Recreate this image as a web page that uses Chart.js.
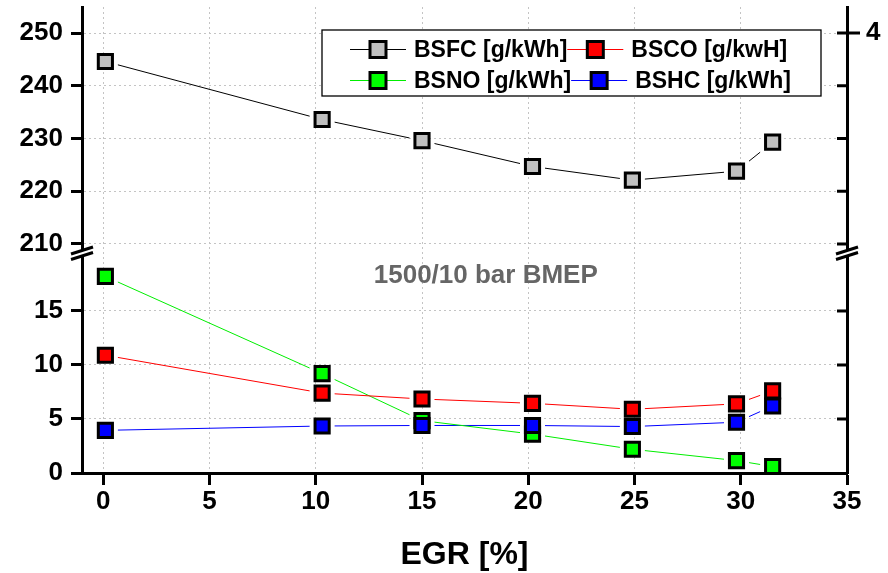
<!DOCTYPE html>
<html>
<head>
<meta charset="utf-8">
<script src="https://cdn.jsdelivr.net/npm/chart.js@4/dist/chart.umd.min.js"></script>
<style>
  html, body { margin: 0; background: #fff; }
</style>
</head>
<body>
<canvas id="chart" width="888" height="573"></canvas>
<script>
// ─── Data ────────────────────────────────────────────
const egr  = [0.1, 10.3, 15.0, 20.2, 24.9, 29.8, 31.5];
const bsfc = [244.6, 233.6, 229.6, 224.7, 222.1, 223.8, 229.3];
const bsco = [10.9, 7.4, 6.85, 6.45, 5.9, 6.4, 7.6];
const bsno = [18.2, 9.2, 4.85, 3.6, 2.2, 1.15, 0.6];
const bshc = [3.95, 4.35, 4.4, 4.4, 4.3, 4.7, 6.2];

const xTicks     = [0, 5, 10, 15, 20, 25, 30, 35];
const upperTicks = [210, 220, 230, 240, 250];
const lowerTicks = [0, 5, 10, 15];
const rightTopLabel = '4';

const labels = ['BSFC [g/kWh]', 'BSCO [g/kwH]', 'BSNO [g/kWh]', 'BSHC [g/kWh]'];
const note = '1500/10 bar BMEP';
const xTitle = 'EGR [%]';

// ─── Styles ──────────────────────────────────────────
const FONT = "'Liberation Sans', Arial, sans-serif";
const LINE = ['#000000', '#ff0000', '#00ee00', '#0000ff'];
const FILL = ['#c0c0c0', '#ff0000', '#00ff00', '#0000ff'];
const GRID = '#c4c4c4';

const pts = arr => egr.map((x, i) => ({ x, y: arr[i] }));
const series = [
  { data: bsfc, axis: 'yUp'  },
  { data: bsco, axis: 'yLow' },
  { data: bsno, axis: 'yLow' },
  { data: bshc, axis: 'yLow' },
];

const datasets = [];
series.forEach((s, i) => {
  // line only (with gaps near markers)
  datasets.push({
    data: pts(s.data), yAxisID: s.axis, gap: true,
    borderColor: LINE[i], borderWidth: 1, pointRadius: 0, order: 20 + i,
  });
});
series.forEach((s, i) => {
  // markers only
  datasets.push({
    data: pts(s.data), yAxisID: s.axis, showLine: false,
    pointStyle: 'rect', pointRadius: 10, pointBorderWidth: 3,
    pointBackgroundColor: FILL[i], pointBorderColor: '#000', order: 3 - i,
  });
});

// ─── Plugins ─────────────────────────────────────────
const gapPlugin = {
  id: 'gaps',
  beforeDatasetDraw(chart, args) {
    const ds = chart.data.datasets[args.index];
    if (!ds.gap) return;
    const ctx = chart.ctx;
    ctx.save();
    ctx.beginPath();
    ctx.rect(0, 0, chart.width, chart.height);
    args.meta.data.forEach(p => ctx.rect(p.x - 12.5, p.y - 12.5, 25, 25));
    ctx.clip('evenodd');
  },
  afterDatasetDraw(chart, args) {
    if (chart.data.datasets[args.index].gap) chart.ctx.restore();
  },
};

const decoPlugin = {
  id: 'deco',
  afterDraw(chart) {
    const ctx = chart.ctx;
    const { yUp, yLow, yrUp, yrLow, x } = chart.scales;
    ctx.save();

    // inward ticks on right axis
    const rx = yrUp.left;
    ctx.strokeStyle = '#000';
    ctx.lineWidth = 3;
    upperTicks.forEach(v => {
      const y = yrUp.getPixelForValue(v);
      ctx.beginPath();
      ctx.moveTo(rx - 10, y);
      ctx.lineTo(v === 250 ? rx + 13 : rx, y);
      ctx.stroke();
    });
    lowerTicks.filter(v => v > 0).forEach(v => {
      const y = yrLow.getPixelForValue(v);
      ctx.beginPath();
      ctx.moveTo(rx - 10, y);
      ctx.lineTo(rx, y);
      ctx.stroke();
    });

    // axis breaks
    const B = yUp.bottom;
    [yUp.right, rx].forEach(ax => {
      ctx.fillStyle = '#fff';
      ctx.fillRect(ax - 3, B - 2, 6, 5);
      ctx.strokeStyle = '#000';
      ctx.lineWidth = 3;
      [-1.5, 4].forEach(off => {
        ctx.beginPath();
        ctx.moveTo(ax - 11, B + off + 3.5);
        ctx.lineTo(ax + 11, B + off - 3.5);
        ctx.stroke();
      });
    });

    // note text
    ctx.fillStyle = '#666';
    ctx.font = `bold 26px ${FONT}`;
    ctx.textAlign = 'center';
    ctx.textBaseline = 'middle';
    ctx.fillText(note, x.getPixelForValue(18), yLow.getPixelForValue(18.3));

    // legend
    const bx = 322, by = 30, bw = 499, bh = 66;
    ctx.fillStyle = '#fff';
    ctx.fillRect(bx, by, bw, bh);
    ctx.strokeStyle = '#000';
    ctx.lineWidth = 1.3;
    ctx.strokeRect(bx, by, bw, bh);

    ctx.font = `bold 23px ${FONT}`;
    ctx.textAlign = 'left';
    const rows = [[0, 1], [2, 3]];
    const rowY = [49.5, 80.5];
    rows.forEach((row, r) => {
      let lx = 350;
      row.forEach(i => {
        const y = rowY[r];
        const len = 56;
        ctx.strokeStyle = LINE[i];
        ctx.lineWidth = 1;
        ctx.beginPath();
        ctx.moveTo(lx, y);
        ctx.lineTo(lx + len, y);
        ctx.stroke();
        const mx = lx + len / 2;
        ctx.fillStyle = FILL[i];
        ctx.fillRect(mx - 8, y - 8, 16, 16);
        ctx.strokeStyle = '#000';
        ctx.lineWidth = 3;
        ctx.strokeRect(mx - 8, y - 8, 16, 16);
        const tx = lx + len + 8;
        ctx.fillStyle = '#000';
        ctx.fillText(labels[i], tx, y + 1);
        lx = tx + ctx.measureText(labels[i]).width;
      });
    });
    ctx.restore();
  },
};

// ─── Scales ──────────────────────────────────────────
const tickFont = { family: FONT, size: 26, weight: 'bold' };
const noPad = s => { s.paddingTop = 0; s.paddingBottom = 0; s.paddingLeft = 0; s.paddingRight = 0; };
const setTicks = arr => s => { s.ticks = arr.map(v => ({ value: v })); };

const leftAxis = (min, max, ticks, weight) => ({
  type: 'linear', position: 'left', stack: 'L', stackWeight: weight,
  min, max,
  afterBuildTicks: setTicks(ticks),
  afterFit: s => { s.width = 82; noPad(s); },
  border: { color: '#000', width: 3, dash: [2, 3] },
  grid: { color: GRID, lineWidth: 1, tickLength: 11, tickColor: '#000', tickWidth: 3, tickBorderDash: [] },
  ticks: { color: '#000', font: tickFont, padding: 8 },
});

const rightAxis = (min, max, ticks, weight, cb) => ({
  type: 'linear', position: 'right', stack: 'R', stackWeight: weight,
  min, max,
  afterBuildTicks: setTicks(ticks),
  afterFit: s => { s.width = 41; noPad(s); },
  border: { color: '#000', width: 3 },
  grid: { drawOnChartArea: false, drawTicks: false },
  ticks: { color: '#000', font: tickFont, padding: 19, callback: cb },
});

new Chart(document.getElementById('chart'), {
  type: 'line',
  data: { datasets },
  plugins: [gapPlugin, decoPlugin],
  options: {
    responsive: false,
    animation: false,
    devicePixelRatio: 1,
    layout: { autoPadding: false, padding: { top: 7, left: 0, right: 0, bottom: 0 } },
    plugins: { legend: { display: false }, tooltip: { enabled: false } },
    scales: {
      x: {
        type: 'linear', min: -1, max: 35,
        afterBuildTicks: setTicks(xTicks),
        afterFit: s => { s.height = 100; noPad(s); },
        border: { color: '#000', width: 3, dash: [2, 3] },
        grid: { color: GRID, lineWidth: 1, tickLength: 12, tickColor: '#000', tickWidth: 3, tickBorderDash: [] },
        ticks: { color: '#000', font: tickFont, padding: 1, maxRotation: 0 },
        title: {
          display: true, text: xTitle, color: '#000',
          font: { family: FONT, size: 32, weight: 'bold' },
          padding: { top: 0, bottom: -1 },
        },
      },
      yLow: leftAxis(0, 20.46, lowerTicks, 221),
      yUp:  leftAxis(208.48, 254.93, upperTicks, 245),
      yrUp:  rightAxis(208.48, 254.93, upperTicks, 245, v => (v === 250 ? rightTopLabel : '')),
      yrLow: rightAxis(0, 20.46, lowerTicks, 221, () => ''),
    },
  },
});
</script>
</body>
</html>
